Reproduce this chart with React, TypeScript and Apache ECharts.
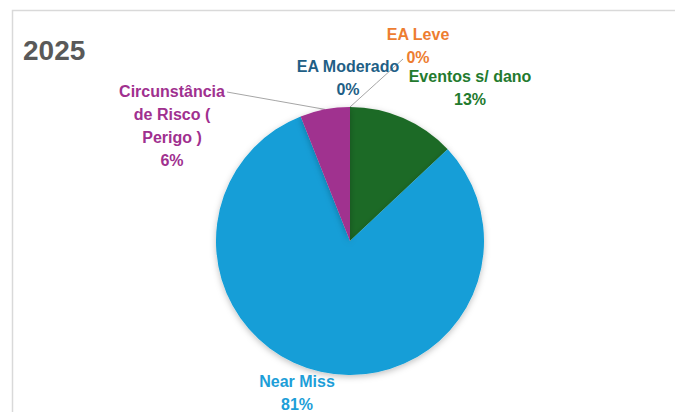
import React, { useEffect, useRef } from "react";
import * as echarts from "echarts";

const categories = ["Eventos s/ dano", "Near Miss", "Circunstância de Risco ( Perigo )", "EA Moderado", "EA Leve"];
const values = [13, 81, 6, 0, 0];
const colors = ["#1E6B28", "#129ED7", "#A0308F", "#1F5F86", "#ED7D31"];
const labelColors = ["#237A2E", "#1D9ED8", "#A0308F", "#1F5F86", "#ED7D31"];
const title = "2025";

// label anchor positions (centre of text block)
const labelPos = [
  [470, 88],
  [297, 393],
  [172, 126],
  [348, 78],
  [418, 46],
];
const showLine = [false, false, true, false, true];
const wrapChars = [0, 0, 13, 0, 0];

function wrap(text: string, max: number): string {
  if (!max) return text;
  const words = text.split(" ");
  const lines: string[] = [];
  let cur = "";
  for (const w of words) {
    const next = cur ? cur + " " + w : w;
    if (next.length > max && cur) {
      lines.push(cur);
      cur = w;
    } else cur = next;
  }
  if (cur) lines.push(cur);
  return lines.join("\n");
}

export default function App() {
  const ref = useRef<HTMLDivElement>(null);
  useEffect(() => {
    const chart = echarts.init(ref.current!, null, { renderer: "svg" });
    const font = "'Liberation Sans', Arial, sans-serif";
    chart.setOption({
      animation: false,
      backgroundColor: "#ffffff",
      title: {
        text: title,
        left: 18,
        top: 31,
        textStyle: { fontFamily: font, fontSize: 28, fontWeight: "bold", color: "#595959" },
      },
      graphic: [
        {
          type: "rect",
          shape: { x: 12.5, y: 10.5, width: 800, height: 600 },
          style: { fill: "none", stroke: "#d9d9d9", lineWidth: 1.5 },
          silent: true,
        },
      ],
      series: [
        {
          type: "pie",
          center: [350, 241],
          radius: 134,
          startAngle: 90,
          clockwise: true,
          avoidLabelOverlap: false,
          itemStyle: { shadowBlur: 6, shadowColor: "rgba(0,0,0,0.25)", shadowOffsetY: 2 },
          label: {
            show: true,
            formatter: (p: any) => wrap(p.name, wrapChars[p.dataIndex]) + "\n" + Math.round(p.percent) + "%",
            fontFamily: font,
            fontSize: 16,
            fontWeight: "bold",
            lineHeight: 23,
            align: "center",
          },
          labelLine: { show: true, length: 10, length2: 10, lineStyle: { color: "#a6a6a6", width: 1 } },
          labelLayout: (params: any) => {
            const i = params.dataIndex;
            const p = labelPos[i];
            const out: any = { x: p[0], y: p[1], align: "center", verticalAlign: "middle" };
            if (params.labelLinePoints && (i === 2 || i === 4)) {
              const start = params.labelLinePoints[0];
              const r = params.labelRect;
              const end = i === 2
                ? [p[0] + r.width / 2 + 2, p[1] - r.height / 2 + 12]
                : [p[0] - 15, p[1] + 13];
              out.labelLinePoints = [start, [(start[0] + end[0]) / 2, (start[1] + end[1]) / 2], end];
            }
            return out;
          },
          data: categories.map((name, i) => ({
            name,
            value: values[i],
            itemStyle: { color: colors[i] },
            label: { color: labelColors[i] },
            labelLine: { show: showLine[i] },
          })),
        },
      ],
    });
    return () => chart.dispose();
  }, []);
  return <div ref={ref} style={{ position: "fixed", left: 0, top: 0, width: 675, height: 412 }} />;
}
